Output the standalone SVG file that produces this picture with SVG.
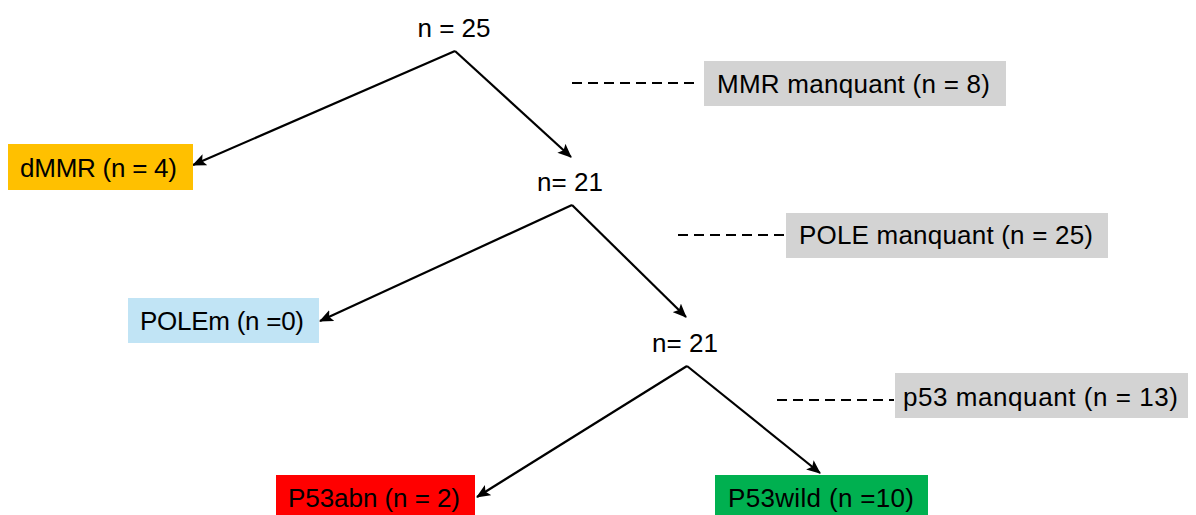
<svg xmlns="http://www.w3.org/2000/svg" width="1196" height="515" viewBox="0 0 1196 515">
<style>
text{font-family:"Liberation Sans",Arial,sans-serif;font-size:26px;fill:#000}
.c{text-anchor:middle}
.arr{stroke:#000;stroke-width:2.2;fill:none;marker-end:url(#ah)}
.dash{stroke:#000;stroke-width:2;stroke-dasharray:10 6;fill:none}
.gray{fill:#D3D3D3}
</style>
<defs>
<marker id="ah" markerUnits="userSpaceOnUse" markerWidth="14" markerHeight="12" refX="13" refY="6" orient="auto">
<path d="M0,0 L14,6 L0,12 L3,6 z" fill="#000"/>
</marker>
</defs>
<rect width="1196" height="515" fill="#fff"/>
<g id="connectors">
<line class="arr" x1="455" y1="51" x2="193" y2="165"/>
<line class="arr" x1="455" y1="51" x2="571" y2="157"/>
<line class="arr" x1="572" y1="205" x2="320" y2="321"/>
<line class="arr" x1="572" y1="205" x2="686" y2="317"/>
<line class="arr" x1="687" y1="366" x2="477" y2="497"/>
<line class="arr" x1="687" y1="366" x2="820" y2="473"/>
<line class="dash" x1="572" y1="83" x2="700" y2="83"/>
<line class="dash" x1="678" y1="235" x2="784" y2="235"/>
<line class="dash" x1="777" y1="400" x2="894" y2="400"/>
</g>
<g id="n25"><text class="c" x="454" y="37">n = 25</text></g>
<g id="dMMR"><rect x="8" y="144" width="185" height="46" fill="#FFC000"/><text x="20" y="177" textLength="157" lengthAdjust="spacing">dMMR (n = 4)</text></g>
<g id="mmr-missing"><rect class="gray" x="704" y="61" width="302" height="45"/><text x="717" y="93" textLength="273" lengthAdjust="spacing">MMR manquant (n = 8)</text></g>
<g id="n21a"><text class="c" x="570" y="191">n= 21</text></g>
<g id="POLEm"><rect x="128" y="298" width="191" height="45" fill="#C1E4F5"/><text x="140" y="330" textLength="164" lengthAdjust="spacing">POLEm (n =0)</text></g>
<g id="pole-missing"><rect class="gray" x="786" y="213" width="322" height="45"/><text x="799" y="244" textLength="294" lengthAdjust="spacing">POLE manquant (n = 25)</text></g>
<g id="n21b"><text class="c" x="685" y="352">n= 21</text></g>
<g id="p53-missing"><rect class="gray" x="895" y="373" width="293" height="45"/><text x="903" y="406" textLength="275" lengthAdjust="spacing">p53 manquant (n = 13)</text></g>
<g id="P53abn"><rect x="276" y="475" width="199" height="45" fill="#FF0000"/><text x="288" y="507" textLength="172" lengthAdjust="spacing">P53abn (n = 2)</text></g>
<g id="P53wild"><rect x="715" y="475" width="213" height="45" fill="#00B050"/><text x="728" y="507" textLength="186" lengthAdjust="spacing">P53wild (n =10)</text></g>
</svg>
